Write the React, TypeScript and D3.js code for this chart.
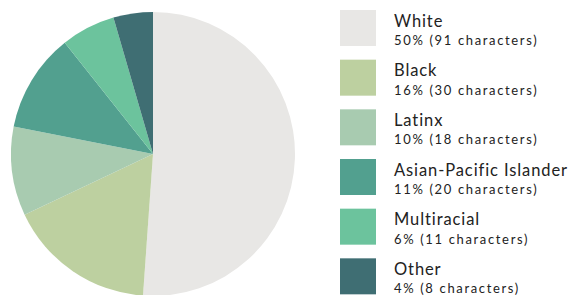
import * as d3 from 'd3';
import { useEffect, useRef } from 'react';

const groups = ['White', 'Black', 'Latinx', 'Asian-Pacific Islander', 'Multiracial', 'Other'];
const counts = [91, 30, 18, 20, 11, 8];
const percentLabels = ['50%', '16%', '10%', '11%', '6%', '4%'];
const colors = ['#e8e7e5', '#bdd0a0', '#a8cbb0', '#52a08f', '#6cc39d', '#3f6e73'];

const FONT = "Futura, 'Century Gothic', Lato, 'Noto Sans', sans-serif";

const App = () => {
    const svgRef = useRef<SVGSVGElement | null>(null);

    useEffect(() => {
        const width = 571;
        const height = 295;

        const svg = d3.select(svgRef.current);
        svg.selectAll('*').remove();
        svg.attr('width', width).attr('height', height);

        const rows = groups.map((g, i) => ({ name: g, value: counts[i], pct: percentLabels[i], color: colors[i] }));

        const pie = d3.pie<any>().sort(null).value((d) => d.value);
        const arc = d3.arc<any>().innerRadius(0).outerRadius(142);

        const pieG = svg.append('g').attr('transform', 'translate(153, 154)');
        pieG.selectAll('path')
            .data(pie(rows))
            .enter()
            .append('path')
            .attr('d', arc)
            .attr('fill', (d) => d.data.color);

        // legend
        const y = d3.scaleBand().domain(groups).range([10, 308]).paddingInner(0);
        const legend = svg.selectAll('g.legend')
            .data(rows)
            .enter()
            .append('g')
            .attr('class', 'legend')
            .attr('transform', (d) => `translate(340, ${y(d.name)})`);

        legend.append('rect').attr('width', 36).attr('height', 36).attr('fill', (d) => d.color);

        legend.append('text')
            .attr('x', 54)
            .attr('y', 16.5)
            .style('font-family', FONT)
            .style('font-size', '16.5px')
            .style('letter-spacing', '0.9px')
            .style('fill', '#222')
            .text((d) => d.name);

        legend.append('text')
            .attr('x', 54)
            .attr('y', 35)
            .style('font-family', FONT)
            .style('font-size', '13px')
            .style('letter-spacing', '1.65px')
            .style('fill', '#222')
            .text((d) => `${d.pct} (${d.value} characters)`);
    }, []);

    return <svg ref={svgRef} style={{ position: 'absolute', left: 0, top: 0 }} />;
};

export default App;
